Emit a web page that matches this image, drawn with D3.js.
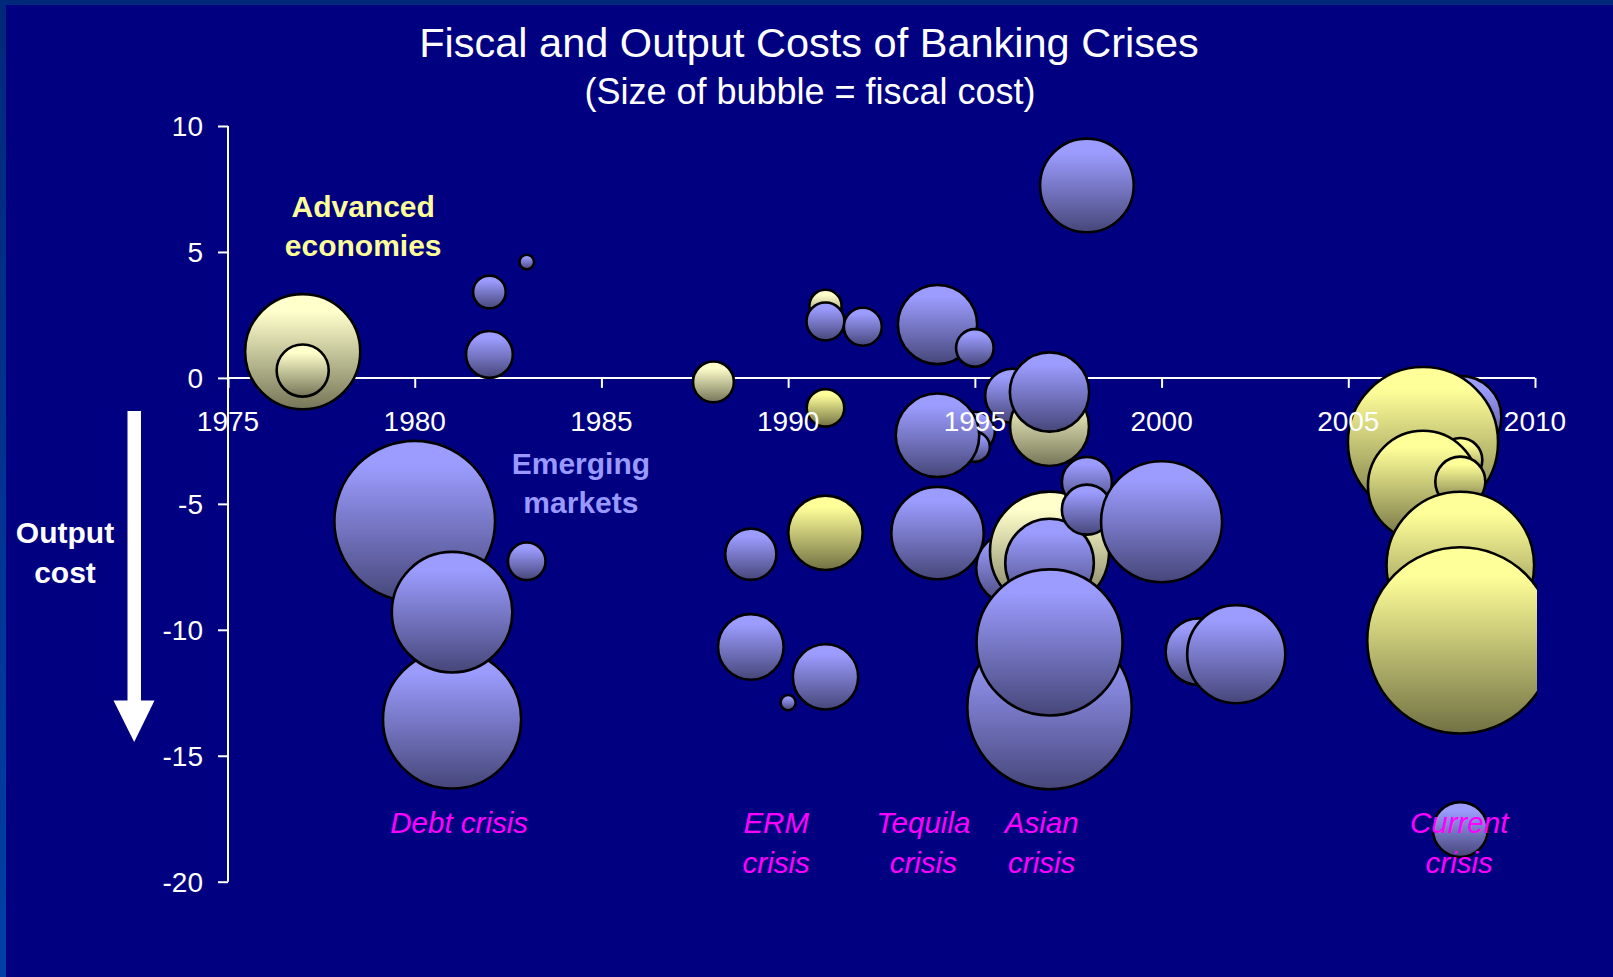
<!DOCTYPE html>
<html>
<head>
<meta charset="utf-8">
<script src="https://cdn.jsdelivr.net/npm/d3@7"></script>
<style>
  html, body { margin: 0; padding: 0; background: #000080; overflow: hidden; }
  text { font-family: "Liberation Sans", Arial, Helvetica, sans-serif; }
</style>
</head>
<body>
<svg id="chart" width="1613" height="977"></svg>
<script>
// ---- Data ---------------------------------------------------------------
// Each crisis: [year, output cost (% of GDP, negative = loss), fiscal cost (% of GDP), group]
// group: "EM" = emerging market, "AE" = advanced economy, "AE2" = advanced economy (second set)
// Rows are listed in the order the bubbles are layered (later rows on top).
const crises = [
  [1977,   1.04, 23.0, "AE"],
  [1977,   0.29,  4.7, "AE"],
  [1980,  -5.69, 44.8, "EM"],
  [1982,   0.93,  3.8, "EM"],
  [1982,   3.41,  1.85, "EM"],
  [1983,   4.60,  0.37, "EM"],
  [1983,  -7.28,  2.45, "EM"],
  [1981, -13.56, 33.1, "EM"],
  [1981,  -9.30, 25.2, "EM"],
  [1988,  -0.16,  2.9, "AE"],
  [1989,  -7.00,  4.55, "EM"],
  [1989, -10.68,  7.47, "EM"],
  [1990, -12.89,  0.40, "EM"],
  [1991,   2.86,  1.8, "AE"],
  [1991,   2.24,  2.5, "EM"],
  [1991,  -1.19,  2.45, "AE2"],
  [1991,  -6.15,  9.6, "AE2"],
  [1991, -11.87,  7.4, "EM"],
  [1992,   2.03,  2.5, "EM"],
  [1994,   2.12, 10.9, "EM"],
  [1995,   1.19,  2.45, "EM"],
  [1995,  -2.14,  2.78, "EM"],
  [1995,  -2.74,  1.56, "EM"],
  [1994,  -2.28, 12.1, "EM"],
  [1996,  -7.55,  9.0, "EM"],
  [1994,  -6.16, 14.8, "EM"],
  [1996,  -0.71,  5.06, "EM"],
  [1997,  -1.93, 10.8, "AE"],
  [1997,  -0.56, 10.9, "EM"],
  [1997,  -6.88, 24.6, "AE"],
  [1997,  -7.35, 13.6, "EM"],
  [1998,  -4.13,  4.34, "EM"],
  [1998,  -5.23,  4.34, "EM"],
  [2000,  -5.71, 25.4, "EM"],
  [1997, -13.07, 46.9, "EM"],
  [1997, -10.50, 37.0, "EM"],
  [2001, -10.87,  7.7, "EM"],
  [2002, -10.97, 16.7, "EM"],
  [2008,  -1.55, 11.7, "EM"],
  [2007,  -2.55, 39.1, "AE2"],
  [2008,  -3.26,  3.36, "AE2"],
  [2007,  -4.28, 21.0, "AE2"],
  [2008,  -4.12,  4.34, "AE2"],
  [2008,  -7.45, 37.8, "AE2"],
  [2008, -10.42, 60.1, "AE2"],
  [2008, -17.93,  5.21, "EM"],
  [1998,   7.64, 15.2, "EM"]
];

const xTicks = [1975, 1980, 1985, 1990, 1995, 2000, 2005, 2010];
const yTicks = [10, 5, 0, -5, -10, -15, -20];

const titleText = "Fiscal and Output Costs of Banking Crises";
const subtitleText = "(Size of bubble = fiscal cost)";

// Crisis episode captions: [year, output-cost level of first line, lines]
const episodeLabels = [
  [1981.19, -18.07, ["Debt crisis"]],
  [1989.68, -18.07, ["ERM", "crisis"]],
  [1993.62, -18.07, ["Tequila", "crisis"]],
  [1996.79, -18.07, ["Asian", "crisis"]],
  [2007.97, -18.07, ["Current", "crisis"]]
];

// Group captions: [year, level of first line, lines, group]
const groupLabels = [
  [1978.62, 6.4, ["Advanced", "economies"], "AE"],
  [1984.45, -3.81, ["Emerging", "markets"], "EM"]
];

// ---- Layout -------------------------------------------------------------
const W = 1613, H = 977;
const plot = { left: 228, right: 1535, top: 126, bottom: 881.7 };

const svg = d3.select("#chart");
const defs = svg.append("defs");

const x = d3.scaleLinear().domain([1975, 2010]).range([plot.left, plot.right]);
const y = d3.scaleLinear().domain([-20, 10]).range([plot.bottom, plot.top]);
const r = d3.scaleSqrt().domain([0, 60]).range([0, 93]);

// background and slide edge
svg.append("rect").attr("width", W).attr("height", H).attr("fill", "#000080");
const edge = defs.append("linearGradient").attr("id", "edge")
  .attr("x1", 0).attr("y1", 0).attr("x2", 0).attr("y2", 1);
edge.append("stop").attr("offset", 0).attr("stop-color", "#00287a");
edge.append("stop").attr("offset", 1).attr("stop-color", "#0040a6");
svg.append("rect").attr("x", 0).attr("y", 0).attr("width", 6).attr("height", H).attr("fill", "url(#edge)");
svg.append("rect").attr("x", 0).attr("y", 0).attr("width", W).attr("height", 5).attr("fill", "#00297c");

// bubble fills: light at the top, darker toward the bottom
const fills = {
  EM:  ["#9c9cff", "#46467a"],
  AE:  ["#ffffcc", "#757558"],
  AE2: ["#ffff99", "#717144"]
};
Object.entries(fills).forEach(([key, [top, bottom]]) => {
  const g = defs.append("linearGradient").attr("id", "fill-" + key)
    .attr("x1", 0).attr("y1", 0).attr("x2", 0).attr("y2", 1);
  g.append("stop").attr("offset", 0).attr("stop-color", top);
  g.append("stop").attr("offset", 0.15).attr("stop-color", top);
  g.append("stop").attr("offset", 1).attr("stop-color", bottom);
});

defs.append("clipPath").attr("id", "plot-clip")
  .append("rect")
  .attr("x", plot.left).attr("y", plot.top - 10)
  .attr("width", plot.right - plot.left + 2).attr("height", plot.bottom - plot.top + 20);

// ---- Axes (lines and ticks under the bubbles) ---------------------------
const axisColor = "#ffffff";

const yAxis = svg.append("g")
  .attr("transform", `translate(${plot.left},0)`)
  .call(d3.axisLeft(y).tickValues(yTicks).tickSize(10).tickSizeOuter(0).tickFormat(() => ""));
const xAxis = svg.append("g")
  .attr("transform", `translate(0,${y(0)})`)
  .call(d3.axisBottom(x).tickValues(xTicks).tickSize(10).tickSizeOuter(0).tickFormat(() => ""));
[yAxis, xAxis].forEach(a => {
  a.select(".domain").attr("stroke", axisColor).attr("stroke-width", 2);
  a.selectAll(".tick line").attr("stroke", axisColor).attr("stroke-width", 2);
});
yAxis.select(".domain").attr("d", `M0,${plot.top}V${plot.bottom}`);
xAxis.select(".domain").attr("d", `M${plot.left},0H${plot.right}`);

// ---- Bubbles ------------------------------------------------------------
svg.append("g").attr("clip-path", "url(#plot-clip)")
  .selectAll("circle")
  .data(crises)
  .join("circle")
  .attr("cx", d => x(d[0]))
  .attr("cy", d => y(d[1]))
  .attr("r", d => r(d[2]))
  .attr("fill", d => `url(#fill-${d[3]})`)
  .attr("stroke", "#000000")
  .attr("stroke-width", 2.6);

// ---- Tick labels (drawn above the bubbles) ------------------------------
const labelSize = 28;
svg.append("g").selectAll("text")
  .data(yTicks).join("text")
  .attr("x", plot.left - 25)
  .attr("y", d => y(d))
  .attr("dy", "0.35em")
  .attr("text-anchor", "end")
  .attr("fill", "#ffffff")
  .attr("font-size", labelSize)
  .text(d => String(d));

svg.append("g").selectAll("text")
  .data(xTicks).join("text")
  .attr("x", d => x(d))
  .attr("y", y(0) + 53)
  .attr("text-anchor", "middle")
  .attr("fill", "#ffffff")
  .attr("font-size", labelSize)
  .text(d => String(d));

// ---- Titles -------------------------------------------------------------
svg.append("text")
  .attr("x", 809).attr("y", 57)
  .attr("text-anchor", "middle").attr("fill", "#ffffff")
  .attr("font-size", 41.5)
  .text(titleText);
svg.append("text")
  .attr("x", 810).attr("y", 104)
  .attr("text-anchor", "middle").attr("fill", "#ffffff")
  .attr("font-size", 36)
  .text(subtitleText);

// ---- Group captions -----------------------------------------------------
const groupColor = { AE: "#ffff99", EM: "#9999ff" };
groupLabels.forEach(([yr, lvl, lines, grp]) => {
  const t = svg.append("text")
    .attr("text-anchor", "middle")
    .attr("fill", groupColor[grp])
    .attr("font-size", 30).attr("font-weight", "bold");
  lines.forEach((line, i) => {
    t.append("tspan").attr("x", x(yr)).attr("y", y(lvl) + i * 39).text(line);
  });
});

// ---- Episode captions ---------------------------------------------------
episodeLabels.forEach(([yr, lvl, lines]) => {
  const t = svg.append("text")
    .attr("text-anchor", "middle")
    .attr("fill", "#ff00ff")
    .attr("font-size", 29.5).attr("font-style", "italic");
  lines.forEach((line, i) => {
    t.append("tspan").attr("x", x(yr)).attr("y", y(lvl) + i * 40).text(line);
  });
});

// ---- Output-cost arrow --------------------------------------------------
const arrow = svg.append("g").attr("fill", "#ffffff");
arrow.append("rect").attr("x", 127.5).attr("y", 411).attr("width", 13.5).attr("height", 291);
arrow.append("path").attr("d", "M113.5,700.5 L154.5,700.5 L134.2,742 Z");

const oc = svg.append("text")
  .attr("text-anchor", "middle").attr("fill", "#ffffff")
  .attr("font-size", 30).attr("font-weight", "bold");
oc.append("tspan").attr("x", 65).attr("y", 543).text("Output");
oc.append("tspan").attr("x", 65).attr("y", 583).text("cost");
</script>
</body>
</html>
